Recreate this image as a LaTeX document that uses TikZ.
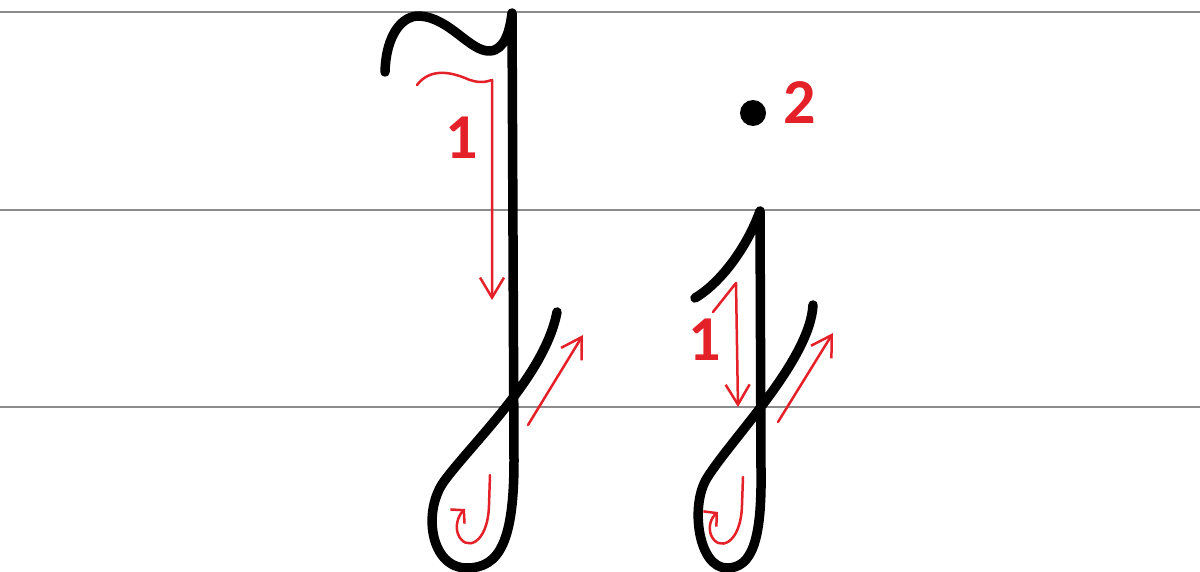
\documentclass[tikz,border=0pt]{standalone}
\usepackage{fontspec}
\newfontfamily\numfont{Carlito}
\usetikzlibrary{arrows.meta}
\definecolor{hintred}{RGB}{228,32,40}
\definecolor{guidegray}{RGB}{140,140,140}
\begin{document}
\begin{tikzpicture}[
    x=1pt, y=-1pt,
    guide/.style={draw=guidegray, line width=1.5pt},
    stroke/.style={draw=black, line width=9.5pt, line cap=round, line join=round},
    hint/.style={draw=hintred, line width=2.5pt, line cap=round, line join=round},
    hinthead/.style={-{Straight Barb[length=20pt,width=24pt,line width=2.5pt]}},
    loophead/.style={-{Straight Barb[length=9pt,width=20pt,line width=2.5pt]}},
    digit/.style={text=hintred, inner sep=0pt,
        font=\numfont\bfseries\fontsize{64}{64}\selectfont},
    ]
    \useasboundingbox (0,0) rectangle (1200,572);
    \fill[white] (0,0) rectangle (1200,572);
    \draw[guide] (0,12) -- (1200,12);
    \draw[guide] (0,210) -- (1200,210);
    \draw[guide] (0,407) -- (1200,407);

    % capital J
    \draw[stroke] (385,72) .. controls (386,35) and (402,15) .. (420,16)
        .. controls (450,18) and (470,52) .. (490,51)
        .. controls (505,50) and (510,30) .. (512,13)
        -- (514,460)
        .. controls (514,540) and (500,568) .. (467,568)
        .. controls (430,568) and (422,510) .. (445,480)
        .. controls (475,440) and (545,375) .. (557,312);
    \draw[hint, hinthead] (417,85) .. controls (430,68) and (450,72) .. (465,78)
        .. controls (478,84) and (486,82) .. (492,80) -- (492,300);
    \draw[hint, hinthead] (528,425) -- (583,335);
    \draw[hint, loophead] (490,475) -- (489,505)
        .. controls (488,545) and (465,552) .. (458,534)
        .. controls (455,526) and (458,516) .. (465,509);
    \node[digit] (numJ) at (462,138) {1};

    % small j
    \fill (753,113) circle (13);
    \node[digit] (numdot) at (800,103) {2};
    \draw[stroke] (695,298) .. controls (722,282) and (748,245) .. (760,211)
        -- (761,470)
        .. controls (762,540) and (752,568) .. (727,568)
        .. controls (698,568) and (690,505) .. (707,478)
        .. controls (732,438) and (810,360) .. (813,305);
    \draw[hint, hinthead] (713,312) -- (736,283) -- (738,407);
    \draw[hint, hinthead] (778,422) -- (833,333);
    \draw[hint, loophead] (743,477) -- (742,505)
        .. controls (741,545) and (718,552) .. (711,535)
        .. controls (708,527) and (711,518) .. (718,512);
    \node[digit] (numj) at (705,340) {1};
\end{tikzpicture}
\end{document}
